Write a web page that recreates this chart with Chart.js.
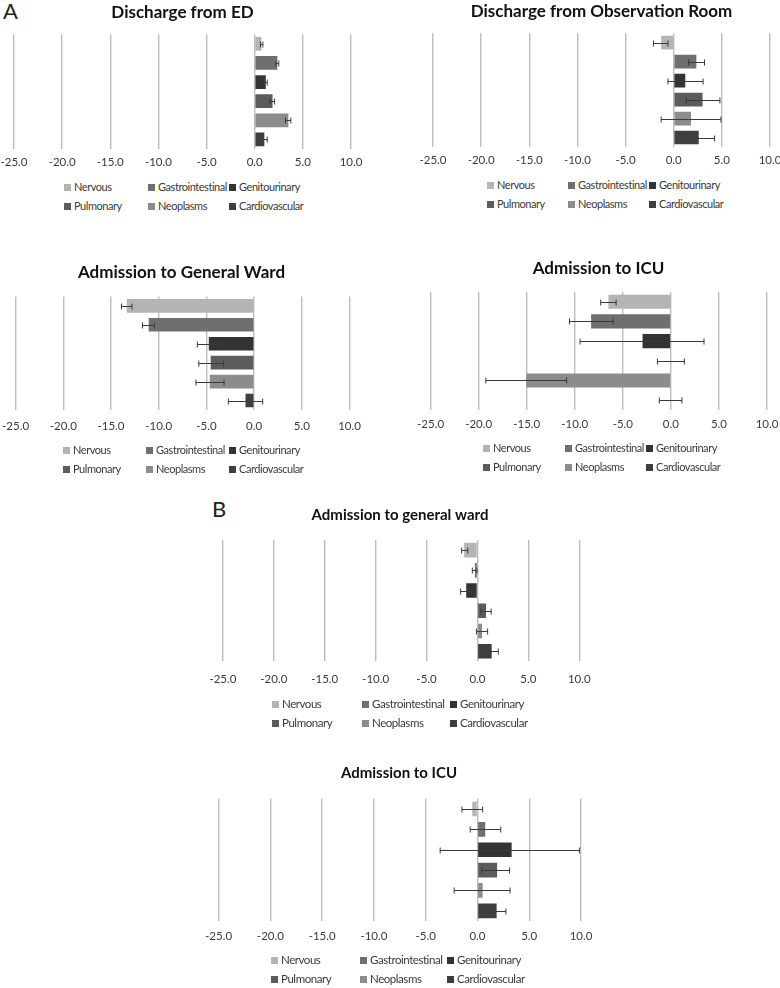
<!DOCTYPE html>
<html>
<head>
<meta charset="utf-8">
<script src="https://cdn.jsdelivr.net/npm/chart.js@4"></script>
<style>
  body { margin: 0; background: #fff; font-family: Lato, sans-serif; }
  #page { position: relative; width: 780px; height: 988px; overflow: hidden; }
  canvas { position: absolute; }
  .legend { position: absolute; display: grid; color: #3a3a3a; line-height: 19px; white-space: nowrap; letter-spacing: -0.45px; }
  .legend span.sw { display: inline-block; width: 7px; height: 7px; margin-right: 3px; vertical-align: 0px; }
  .mark { position: absolute; font-size: 22px; color: #222; }
</style>
</head>
<body>
<div id="page">
  <div class="mark" style="left:3px;top:-3px;">A</div>
  <div class="mark" style="left:212px;top:495px;">B</div>
</div>
<script>
// categories and bar colours
const categories = ['Nervous', 'Gastrointestinal', 'Genitourinary', 'Pulmonary', 'Neoplasms', 'Cardiovascular'];
const colors = ['#b4b4b4', '#6f6f6f', '#333333', '#5c5c5c', '#8c8c8c', '#3f3f3f'];

// A - discharge from ED
const edValues = [0.7, 2.35, 1.15, 1.85, 3.5, 1.0];
const edLow = [0.6, 2.2, 1.0, 1.6, 3.2, 0.7];
const edHigh = [0.85, 2.5, 1.3, 2.05, 3.75, 1.3];

// A - discharge from observation room
const obsValues = [-1.3, 2.35, 1.2, 3.0, 1.8, 2.6];
const obsLow = [-2.1, 1.55, -0.6, 1.3, -1.3, 0.9];
const obsHigh = [-0.6, 3.2, 3.05, 4.8, 4.9, 4.25];

// A - admission to general ward
const wardValues = [-13.35, -11.05, -4.75, -4.55, -4.65, -0.9];
const wardLow = [-13.9, -11.7, -5.95, -5.8, -6.1, -2.7];
const wardHigh = [-12.8, -10.45, -3.55, -3.2, -3.15, 0.9];

// A - admission to ICU
const icuValues = [-6.5, -8.3, -2.95, 0, -15.05, 0];
const icuLow = [-7.3, -10.55, -9.45, -1.4, -19.25, -1.2];
const icuHigh = [-5.7, -6.0, 3.45, 1.4, -10.85, 1.15];

// B - admission to general ward
const wardBValues = [-1.3, -0.25, -1.1, 0.85, 0.45, 1.4];
const wardBLow = [-1.55, -0.5, -1.65, 0.35, -0.1, 0.75];
const wardBHigh = [-0.95, -0.05, -0.6, 1.35, 1.0, 2.05];

// B - admission to ICU
const icuBValues = [-0.5, 0.75, 3.3, 1.9, 0.5, 1.85];
const icuBLow = [-1.5, -0.7, -3.6, 0.4, -2.25, 0.65];
const icuBHigh = [0.5, 2.25, 9.85, 3.1, 3.15, 2.75];

const xMin = -25, xMax = 10, xStep = 5;

// error bars drawn through the x scale
const errorBars = {
  id: 'errorBars',
  afterDatasetsDraw(chart, args, opts) {
    const ctx = chart.ctx;
    const xs = chart.scales.x;
    const meta = chart.getDatasetMeta(0);
    ctx.save();
    ctx.strokeStyle = '#3a3a3a';
    ctx.lineWidth = 1;
    meta.data.forEach((bar, i) => {
      const x1 = xs.getPixelForValue(opts.low[i]);
      const x2 = xs.getPixelForValue(opts.high[i]);
      const y = Math.round(bar.y) + 0.5;
      ctx.beginPath();
      ctx.moveTo(x1, y); ctx.lineTo(x2, y);
      ctx.moveTo(x1, y - 3); ctx.lineTo(x1, y + 3);
      ctx.moveTo(x2, y - 3); ctx.lineTo(x2, y + 3);
      ctx.stroke();
    });
    ctx.restore();
  }
};

const page = document.getElementById('page');

function panel(p) {
  const titleLH = p.titleSize * 1.2;
  const tickLH = 11.5 * 1.2;
  const padX = 20;
  const top = p.titleY - titleLH / 2;
  const tickPad = p.tickY - tickLH / 2 - p.bottom;
  const h = Math.round(p.bottom - top + tickPad * 2 + tickLH + 2);
  const w = Math.round(p.right - p.left + padX * 2);
  const canvas = document.createElement('canvas');
  canvas.width = w; canvas.height = h;
  canvas.style.left = (p.left - padX) + 'px';
  canvas.style.top = top + 'px';
  canvas.style.width = w + 'px'; canvas.style.height = h + 'px';
  page.appendChild(canvas);

  new Chart(canvas, {
    type: 'bar',
    data: {
      labels: categories,
      datasets: [{ data: p.values, backgroundColor: colors, borderWidth: 0, barPercentage: 0.72, categoryPercentage: 1 }]
    },
    options: {
      indexAxis: 'y',
      responsive: false,
      animation: false,
      devicePixelRatio: 1,
      layout: { padding: { left: padX, right: padX, top: 0, bottom: 2 } },
      plugins: {
        legend: { display: false },
        tooltip: { enabled: false },
        title: {
          display: true,
          text: p.title,
          color: '#111',
          font: { family: 'Lato', size: p.titleSize, weight: 'bold', lineHeight: 1.2 },
          padding: { top: 0, bottom: p.top - (p.titleY + titleLH / 2) }
        },
        errorBars: { low: p.low, high: p.high }
      },
      scales: {
        x: {
          min: xMin, max: xMax,
          border: { display: false },
          grid: { color: '#bdbdbd', lineWidth: 1.4, drawTicks: false },
          ticks: {
            stepSize: xStep,
            padding: tickPad,
            color: '#3a3a3a',
            font: { family: 'Lato', size: 11.5, lineHeight: 1.2 },
            callback: v => v.toFixed(1)
          }
        },
        y: { display: false }
      }
    },
    plugins: [errorBars]
  });

  // legend laid out in three aligned columns
  const lg = document.createElement('div');
  lg.className = 'legend';
  lg.style.left = p.legendX + 'px';
  lg.style.top = (p.legendY - 9.5) + 'px';
  lg.style.gridTemplateColumns = p.cols;
  lg.style.fontSize = p.legendSize + 'px';
  categories.forEach((c, i) => {
    const item = document.createElement('div');
    item.innerHTML = '<span class="sw" style="background:' + colors[i] + '"></span>' + c;
    lg.appendChild(item);
  });
  page.appendChild(lg);
}

panel({ title: 'Discharge from ED', titleSize: 17, titleY: 12, left: 14, right: 351, top: 34, bottom: 149, tickY: 162,
  legendX: 64, legendY: 186, cols: '84px 81px auto', legendSize: 11, values: edValues, low: edLow, high: edHigh });
panel({ title: 'Discharge from Observation Room', titleSize: 17, titleY: 11, left: 432.7, right: 769.3, top: 33, bottom: 147, tickY: 160,
  legendX: 487, legendY: 184, cols: '81px 81px auto', legendSize: 11, values: obsValues, low: obsLow, high: obsHigh });
panel({ title: 'Admission to General Ward', titleSize: 17, titleY: 272.5, left: 13.3, right: 350, top: 296.7, bottom: 410, tickY: 426,
  legendX: 63, legendY: 449, cols: '83px 83px auto', legendSize: 11, values: wardValues, low: wardLow, high: wardHigh });
panel({ title: 'Admission to ICU', titleSize: 17, titleY: 268, left: 430.3, right: 767.3, top: 291.7, bottom: 410, tickY: 424,
  legendX: 483, legendY: 447, cols: '82px 81px auto', legendSize: 11, values: icuValues, low: icuLow, high: icuHigh });
panel({ title: 'Admission to general ward', titleSize: 15, titleY: 515, left: 218.3, right: 582.3, top: 540, bottom: 661.7, tickY: 680,
  legendX: 272, legendY: 703, cols: '90px 88px auto', legendSize: 11.5, values: wardBValues, low: wardBLow, high: wardBHigh });
panel({ title: 'Admission to ICU', titleSize: 15, titleY: 772.5, left: 216.7, right: 580.7, top: 798.3, bottom: 920, tickY: 935,
  legendX: 271, legendY: 959, cols: '89px 87px auto', legendSize: 11.5, values: icuBValues, low: icuBLow, high: icuBHigh });
</script>
</body>
</html>
